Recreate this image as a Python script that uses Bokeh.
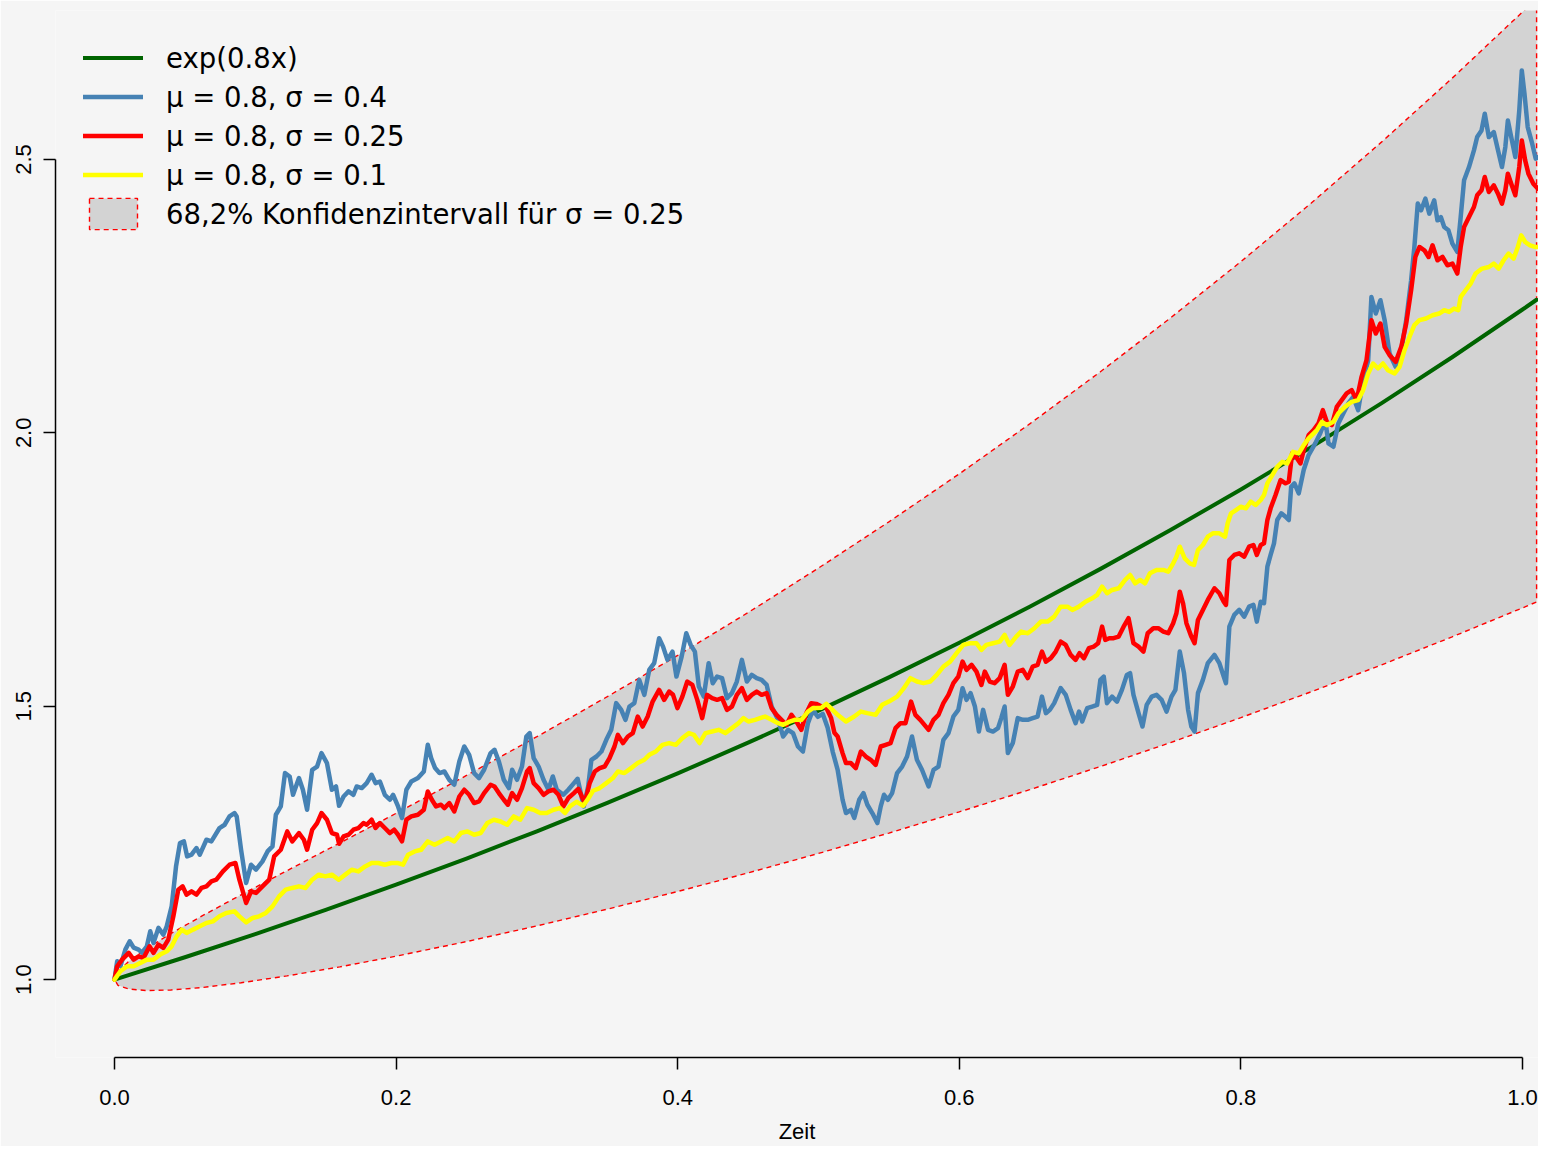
from bokeh.plotting import figure
from bokeh.models import Range1d, FixedTicker, PrintfTickFormatter, Legend, LegendItem
from bokeh.embed import file_html
from bokeh.resources import INLINE

# ---------------- data ----------------
x_ticks = [0.0, 0.2, 0.4, 0.6, 0.8, 1.0]
y_ticks = [1.0, 1.5, 2.0, 2.5]
x_label = "Zeit"
legend_labels = ["exp(0.8x)", "\u03bc = 0.8, \u03c3 = 0.4", "\u03bc = 0.8, \u03c3 = 0.25",
                 "\u03bc = 0.8, \u03c3 = 0.1", "68,2% Konfidenzintervall f\u00fcr \u03c3 = 0.25"]

trend_t = [0.0, 0.05, 0.1, 0.15, 0.2, 0.25, 0.3, 0.35, 0.4, 0.45, 0.5, 0.55, 0.6, 0.65,
           0.7, 0.75, 0.8, 0.85, 0.9, 0.95, 1.0, 1.01]
trend_v = [1.0, 1.0408, 1.0833, 1.1275, 1.1735, 1.2214, 1.2712, 1.3231, 1.3771, 1.4333,
           1.4918, 1.5527, 1.6161, 1.6820, 1.7507, 1.8221, 1.8965, 1.9739, 2.0544, 2.1383,
           2.2255, 2.2434]

band_t = [0.0, 0.0025, 0.01, 0.0225, 0.04, 0.0625, 0.09, 0.1225, 0.16, 0.2, 0.25, 0.3, 0.35,
          0.4, 0.45, 0.5, 0.55, 0.6, 0.65, 0.7, 0.75, 0.8, 0.85, 0.9, 0.95, 1.0, 1.01]
band_upper = [1.0, 1.0145, 1.0332, 1.0563, 1.0841, 1.1169, 1.1551, 1.1992, 1.2498, 1.3041,
              1.3733, 1.4442, 1.5174, 1.5930, 1.6713, 1.7527, 1.8372, 1.9250, 2.0163, 2.1113,
              2.2102, 2.3131, 2.4204, 2.5321, 2.6485, 2.7697, 2.7946]
band_lower = [1.0, 0.9895, 0.9828, 0.9800, 0.9809, 0.9856, 0.9942, 1.0067, 1.0233, 1.0428,
              1.0695, 1.0982, 1.1288, 1.1611, 1.1951, 1.2307, 1.2680, 1.3068, 1.3473, 1.3895,
              1.4334, 1.4791, 1.5265, 1.5757, 1.6268, 1.6798, 1.6907]

blue_pts = [
    (0.0, 1.0), (0.0019, 1.0334), (0.0042, 1.0243), (0.0077, 1.0548), (0.0108, 1.0700),
    (0.0136, 1.0585), (0.0171, 1.0548), (0.0195, 1.0493), (0.0230, 1.0608), (0.0254, 1.0883),
    (0.0277, 1.0671), (0.0312, 1.0945), (0.0347, 1.0822), (0.0371, 1.0974), (0.0406, 1.1339),
    (0.0437, 1.2070), (0.0465, 1.2498), (0.0493, 1.2527), (0.0516, 1.2253), (0.0547, 1.2284),
    (0.0582, 1.2406), (0.0606, 1.2284), (0.0653, 1.2558), (0.0688, 1.2527), (0.0746, 1.2772),
    (0.0782, 1.2832), (0.0817, 1.2984), (0.0852, 1.3046), (0.0868, 1.2984), (0.0899, 1.2375),
    (0.0935, 1.1767), (0.0970, 1.2101), (0.1005, 1.2010), (0.1051, 1.2162), (0.1087, 1.2344),
    (0.1122, 1.2436), (0.1146, 1.3015), (0.1181, 1.3167), (0.1211, 1.3777), (0.1244, 1.3715),
    (0.1268, 1.3380), (0.1310, 1.3686), (0.1338, 1.3472), (0.1368, 1.3106), (0.1404, 1.3837),
    (0.1439, 1.3897), (0.1470, 1.4142), (0.1509, 1.3960), (0.1544, 1.3472), (0.1573, 1.3532),
    (0.1595, 1.3179), (0.1627, 1.3349), (0.1662, 1.3441), (0.1697, 1.3380), (0.1720, 1.3532),
    (0.1756, 1.3503), (0.1791, 1.3594), (0.1826, 1.3746), (0.1854, 1.3594), (0.1885, 1.3623),
    (0.1920, 1.3380), (0.1956, 1.3289), (0.1979, 1.3380), (0.2014, 1.3167), (0.2042, 1.2955),
    (0.2073, 1.3472), (0.2108, 1.3623), (0.2155, 1.3686), (0.2197, 1.3806), (0.2225, 1.4294),
    (0.2249, 1.4051), (0.2277, 1.3868), (0.2308, 1.3777), (0.2343, 1.3806), (0.2378, 1.3654),
    (0.2413, 1.3563), (0.2449, 1.3989), (0.2484, 1.4263), (0.2519, 1.4111), (0.2554, 1.3777),
    (0.2589, 1.3686), (0.2625, 1.3837), (0.2671, 1.4142), (0.2699, 1.4203), (0.2730, 1.3989),
    (0.2765, 1.3654), (0.2801, 1.3503), (0.2824, 1.3837), (0.2859, 1.3654), (0.2894, 1.3897),
    (0.2925, 1.4446), (0.2949, 1.4508), (0.2977, 1.4051), (0.3012, 1.3897), (0.3047, 1.3654),
    (0.3082, 1.3472), (0.3113, 1.3715), (0.3141, 1.3472), (0.3188, 1.3380), (0.3223, 1.3472),
    (0.3263, 1.3594), (0.3289, 1.3673), (0.3333, 1.3167), (0.3364, 1.3532), (0.3387, 1.4020),
    (0.3423, 1.4080), (0.3458, 1.4171), (0.3493, 1.4385), (0.3528, 1.4568), (0.3563, 1.5056),
    (0.3599, 1.4933), (0.3629, 1.4751), (0.3657, 1.4994), (0.3692, 1.5056), (0.3727, 1.5482),
    (0.3763, 1.5208), (0.3798, 1.5664), (0.3833, 1.5787), (0.3868, 1.6244), (0.3896, 1.6090),
    (0.3927, 1.5847), (0.3963, 1.5999), (0.3991, 1.5542), (0.4028, 1.5907), (0.4061, 1.6335),
    (0.4092, 1.6121), (0.4122, 1.5999), (0.4150, 1.5359), (0.4185, 1.5176), (0.4220, 1.5787),
    (0.4249, 1.5421), (0.4280, 1.5542), (0.4315, 1.5513), (0.4350, 1.5147), (0.4385, 1.5239),
    (0.4420, 1.5451), (0.4456, 1.5847), (0.4491, 1.5451), (0.4526, 1.5573), (0.4561, 1.5513),
    (0.4596, 1.5482), (0.4632, 1.5390), (0.4667, 1.4994), (0.4713, 1.4751), (0.4749, 1.4446),
    (0.4784, 1.4568), (0.4819, 1.4508), (0.4854, 1.4263), (0.4889, 1.4171), (0.4925, 1.4690),
    (0.4960, 1.4933), (0.4995, 1.4806), (0.5030, 1.4860), (0.5065, 1.4605), (0.5101, 1.4166),
    (0.5136, 1.3837), (0.5171, 1.3289), (0.5195, 1.3046), (0.5230, 1.3106), (0.5254, 1.2955),
    (0.5289, 1.3289), (0.5319, 1.3411), (0.5347, 1.3198), (0.5382, 1.3046), (0.5418, 1.2863),
    (0.5442, 1.3167), (0.5465, 1.3380), (0.5493, 1.3289), (0.5523, 1.3411), (0.5558, 1.3777),
    (0.5594, 1.3897), (0.5629, 1.4080), (0.5664, 1.4446), (0.5699, 1.4020), (0.5735, 1.3837),
    (0.5782, 1.3532), (0.5817, 1.3837), (0.5852, 1.3897), (0.5887, 1.4385), (0.5923, 1.4508),
    (0.5958, 1.4811), (0.5993, 1.4933), (0.6023, 1.5330), (0.6051, 1.5116), (0.6080, 1.5239),
    (0.6111, 1.4994), (0.6139, 1.4537), (0.6169, 1.4933), (0.6204, 1.4568), (0.6239, 1.4537),
    (0.6275, 1.4599), (0.6298, 1.4782), (0.6322, 1.4994), (0.6345, 1.4142), (0.6380, 1.4325),
    (0.6415, 1.4782), (0.6451, 1.4751), (0.6486, 1.4751), (0.6521, 1.4782), (0.6556, 1.4811),
    (0.6587, 1.5176), (0.6615, 1.4873), (0.6643, 1.4933), (0.6674, 1.5056), (0.6720, 1.5330),
    (0.6756, 1.5208), (0.6791, 1.4933), (0.6826, 1.4690), (0.6850, 1.4902), (0.6873, 1.4720),
    (0.6908, 1.4964), (0.6944, 1.4994), (0.6979, 1.5025), (0.7002, 1.5482), (0.7026, 1.5542),
    (0.7049, 1.5056), (0.7085, 1.5176), (0.7120, 1.5085), (0.7155, 1.5299), (0.7190, 1.5573),
    (0.7213, 1.5604), (0.7237, 1.5208), (0.7273, 1.4873), (0.7301, 1.4628), (0.7331, 1.5025),
    (0.7366, 1.5176), (0.7401, 1.5208), (0.7437, 1.5116), (0.7472, 1.4902), (0.7507, 1.5176),
    (0.7535, 1.5299), (0.7566, 1.5999), (0.7596, 1.5604), (0.7625, 1.4933), (0.7648, 1.4628),
    (0.7671, 1.4537), (0.7695, 1.5239), (0.7730, 1.5482), (0.7765, 1.5787), (0.7812, 1.5938),
    (0.7847, 1.5787), (0.7878, 1.5542), (0.7894, 1.5421), (0.7918, 1.6455), (0.7953, 1.6669),
    (0.7988, 1.6761), (0.8023, 1.6638), (0.8058, 1.6821), (0.8089, 1.6852), (0.8113, 1.6547),
    (0.8141, 1.6912), (0.8164, 1.6883), (0.8188, 1.7552), (0.8211, 1.7766), (0.8235, 1.7979),
    (0.8258, 1.8405), (0.8287, 1.8528), (0.8317, 1.8465), (0.8340, 1.8405), (0.8357, 1.9014),
    (0.8380, 1.9076), (0.8411, 1.8893), (0.8446, 1.9319), (0.8481, 1.9593), (0.8528, 1.9807),
    (0.8563, 1.9989), (0.8599, 2.0232), (0.8622, 1.9807), (0.8657, 1.9745), (0.8692, 2.0172),
    (0.8727, 2.0355), (0.8763, 2.0537), (0.8798, 2.0658), (0.8833, 2.0415), (0.8868, 2.0963),
    (0.8904, 2.1329), (0.8927, 2.2485), (0.8958, 2.2182), (0.8991, 2.2425), (0.9021, 2.2060),
    (0.9056, 2.1451), (0.9099, 2.1206), (0.9139, 2.1511), (0.9174, 2.2060), (0.9209, 2.2790),
    (0.9232, 2.3399), (0.9256, 2.4192), (0.9280, 2.4069), (0.9310, 2.4283), (0.9338, 2.4009),
    (0.9373, 2.4252), (0.9396, 2.3887), (0.9420, 2.3947), (0.9444, 2.3764), (0.9474, 2.3704),
    (0.9502, 2.3461), (0.9537, 2.3308), (0.9561, 2.3947), (0.9585, 2.4618), (0.9620, 2.4861),
    (0.9655, 2.5166), (0.9678, 2.5409), (0.9709, 2.5531), (0.9732, 2.5836), (0.9761, 2.5409),
    (0.9796, 2.5500), (0.9826, 2.5166), (0.9854, 2.4861), (0.9878, 2.5226), (0.9896, 2.5714),
    (0.9920, 2.5409), (0.9949, 2.5044), (0.9977, 2.5897), (0.9995, 2.6628), (1.0014, 2.6202),
    (1.0037, 2.5592), (1.0066, 2.5318), (1.0094, 2.5014), (1.0113, 2.5044),
]

red_pts = [
    (0.0, 1.0), (0.0019, 1.0243), (0.0054, 1.0365), (0.0101, 1.0488), (0.0136, 1.0365),
    (0.0171, 1.0426), (0.0206, 1.0396), (0.0249, 1.0608), (0.0277, 1.0488), (0.0312, 1.0640),
    (0.0347, 1.0579), (0.0382, 1.0731), (0.0418, 1.1157), (0.0453, 1.1644), (0.0484, 1.1705),
    (0.0512, 1.1553), (0.0547, 1.1613), (0.0582, 1.1553), (0.0618, 1.1676), (0.0653, 1.1705),
    (0.0688, 1.1796), (0.0723, 1.1827), (0.0770, 1.1979), (0.0817, 1.2101), (0.0859, 1.2132),
    (0.0887, 1.1827), (0.0935, 1.1401), (0.0970, 1.1613), (0.1005, 1.1584), (0.1051, 1.1705),
    (0.1099, 1.1827), (0.1134, 1.2253), (0.1181, 1.2375), (0.1227, 1.2710), (0.1263, 1.2527),
    (0.1310, 1.2680), (0.1345, 1.2558), (0.1368, 1.2375), (0.1404, 1.2741), (0.1439, 1.2863),
    (0.1470, 1.3046), (0.1509, 1.2924), (0.1544, 1.2680), (0.1580, 1.2649), (0.1595, 1.2485),
    (0.1627, 1.2618), (0.1662, 1.2649), (0.1697, 1.2741), (0.1732, 1.2772), (0.1768, 1.2863),
    (0.1791, 1.2832), (0.1826, 1.2924), (0.1854, 1.2772), (0.1885, 1.2863), (0.1920, 1.2772),
    (0.1956, 1.2680), (0.1986, 1.2741), (0.2014, 1.2649), (0.2042, 1.2527), (0.2073, 1.2924),
    (0.2108, 1.2984), (0.2155, 1.3015), (0.2197, 1.3106), (0.2225, 1.3441), (0.2254, 1.3289),
    (0.2284, 1.3167), (0.2319, 1.3198), (0.2343, 1.3137), (0.2378, 1.3229), (0.2413, 1.3075),
    (0.2449, 1.3349), (0.2484, 1.3472), (0.2519, 1.3380), (0.2554, 1.3229), (0.2589, 1.3258),
    (0.2625, 1.3411), (0.2671, 1.3563), (0.2699, 1.3532), (0.2730, 1.3411), (0.2765, 1.3289),
    (0.2794, 1.3198), (0.2824, 1.3411), (0.2859, 1.3289), (0.2894, 1.3503), (0.2930, 1.3806),
    (0.2949, 1.3868), (0.2977, 1.3594), (0.3012, 1.3503), (0.3047, 1.3380), (0.3082, 1.3441),
    (0.3118, 1.3472), (0.3153, 1.3380), (0.3188, 1.3167), (0.3223, 1.3320), (0.3263, 1.3411),
    (0.3294, 1.3490), (0.3340, 1.3229), (0.3375, 1.3594), (0.3411, 1.3806), (0.3446, 1.3868),
    (0.3481, 1.3897), (0.3516, 1.4051), (0.3551, 1.4263), (0.3575, 1.4477), (0.3611, 1.4325),
    (0.3646, 1.4446), (0.3681, 1.4508), (0.3716, 1.4811), (0.3751, 1.4628), (0.3787, 1.4811),
    (0.3822, 1.5085), (0.3868, 1.5299), (0.3904, 1.5116), (0.3939, 1.5268), (0.3967, 1.5208),
    (0.3998, 1.4964), (0.4033, 1.5176), (0.4068, 1.5451), (0.4104, 1.5390), (0.4139, 1.5116),
    (0.4174, 1.4782), (0.4209, 1.5208), (0.4244, 1.5147), (0.4280, 1.5116), (0.4315, 1.5147),
    (0.4350, 1.4933), (0.4385, 1.4994), (0.4420, 1.5208), (0.4456, 1.5330), (0.4491, 1.5116),
    (0.4526, 1.5208), (0.4561, 1.5268), (0.4596, 1.5208), (0.4632, 1.5239), (0.4667, 1.4964),
    (0.4702, 1.4842), (0.4737, 1.4751), (0.4773, 1.4659), (0.4808, 1.4842), (0.4843, 1.4720),
    (0.4878, 1.4568), (0.4913, 1.4873), (0.4949, 1.5056), (0.4983, 1.5043), (0.5019, 1.4997),
    (0.5054, 1.4979), (0.5089, 1.4787), (0.5113, 1.4513), (0.5136, 1.4446), (0.5171, 1.4142),
    (0.5195, 1.3960), (0.5230, 1.3960), (0.5265, 1.3868), (0.5301, 1.4171), (0.5336, 1.4080),
    (0.5371, 1.4020), (0.5406, 1.3928), (0.5442, 1.4263), (0.5477, 1.4294), (0.5512, 1.4325),
    (0.5547, 1.4599), (0.5582, 1.4690), (0.5618, 1.4690), (0.5657, 1.5085), (0.5688, 1.4842),
    (0.5723, 1.4751), (0.5782, 1.4568), (0.5817, 1.4751), (0.5852, 1.4842), (0.5887, 1.5056),
    (0.5923, 1.5208), (0.5958, 1.5421), (0.5993, 1.5542), (0.6023, 1.5816), (0.6051, 1.5664),
    (0.6087, 1.5756), (0.6122, 1.5633), (0.6157, 1.5390), (0.6181, 1.5633), (0.6216, 1.5451),
    (0.6251, 1.5421), (0.6287, 1.5513), (0.6322, 1.5756), (0.6345, 1.5208), (0.6380, 1.5359),
    (0.6415, 1.5633), (0.6451, 1.5664), (0.6486, 1.5513), (0.6521, 1.5725), (0.6556, 1.5756),
    (0.6587, 1.5999), (0.6615, 1.5816), (0.6650, 1.5878), (0.6685, 1.5999), (0.6720, 1.6181),
    (0.6756, 1.6121), (0.6791, 1.5938), (0.6826, 1.5847), (0.6854, 1.5969), (0.6885, 1.5878),
    (0.6920, 1.6061), (0.6956, 1.6090), (0.6986, 1.6152), (0.7014, 1.6455), (0.7037, 1.6212),
    (0.7065, 1.6244), (0.7096, 1.6244), (0.7132, 1.6273), (0.7167, 1.6455), (0.7202, 1.6609),
    (0.7237, 1.6152), (0.7273, 1.6090), (0.7308, 1.5999), (0.7338, 1.6335), (0.7378, 1.6426),
    (0.7413, 1.6426), (0.7449, 1.6364), (0.7484, 1.6335), (0.7519, 1.6518), (0.7542, 1.6700),
    (0.7566, 1.7095), (0.7589, 1.6883), (0.7613, 1.6518), (0.7648, 1.6273), (0.7671, 1.6152),
    (0.7695, 1.6578), (0.7730, 1.6761), (0.7765, 1.6943), (0.7812, 1.7157), (0.7847, 1.7066),
    (0.7878, 1.6912), (0.7894, 1.6852), (0.7918, 1.7674), (0.7953, 1.7766), (0.7988, 1.7797),
    (0.8023, 1.7735), (0.8058, 1.7917), (0.8089, 1.7948), (0.8113, 1.7766), (0.8141, 1.7948),
    (0.8164, 1.7979), (0.8188, 1.8405), (0.8211, 1.8619), (0.8246, 1.8862), (0.8282, 1.9136),
    (0.8317, 1.9076), (0.8340, 1.9105), (0.8364, 1.9624), (0.8399, 1.9532), (0.8423, 1.9441),
    (0.8446, 1.9684), (0.8481, 1.9958), (0.8516, 2.0050), (0.8551, 2.0172), (0.8582, 2.0415),
    (0.8610, 2.0201), (0.8646, 2.0141), (0.8681, 2.0475), (0.8716, 2.0598), (0.8751, 2.0720),
    (0.8787, 2.0780), (0.8822, 2.0598), (0.8857, 2.1024), (0.8892, 2.1329), (0.8927, 2.2060),
    (0.8958, 2.1816), (0.8991, 2.1999), (0.9021, 2.1572), (0.9056, 2.1420), (0.9099, 2.1298),
    (0.9139, 2.1572), (0.9174, 2.1999), (0.9209, 2.2608), (0.9239, 2.3216), (0.9268, 2.3399),
    (0.9303, 2.3339), (0.9333, 2.3216), (0.9361, 2.3430), (0.9396, 2.3156), (0.9432, 2.3216),
    (0.9467, 2.3064), (0.9502, 2.3095), (0.9537, 2.2913), (0.9561, 2.3399), (0.9585, 2.3764),
    (0.9620, 2.3947), (0.9655, 2.4130), (0.9678, 2.4344), (0.9709, 2.4435), (0.9732, 2.4678),
    (0.9761, 2.4404), (0.9796, 2.4526), (0.9826, 2.4374), (0.9854, 2.4192), (0.9878, 2.4435),
    (0.9896, 2.4740), (0.9920, 2.4557), (0.9949, 2.4344), (0.9977, 2.4861), (0.9995, 2.5348),
    (1.0019, 2.4983), (1.0042, 2.4740), (1.0077, 2.4557), (1.0108, 2.4466),
]

yellow_pts = [
    (0.0, 1.0), (0.0042, 1.0152), (0.0089, 1.0243), (0.0136, 1.0243), (0.0183, 1.0305),
    (0.0230, 1.0365), (0.0277, 1.0365), (0.0324, 1.0457), (0.0371, 1.0517), (0.0406, 1.0608),
    (0.0442, 1.0791), (0.0477, 1.0914), (0.0512, 1.0853), (0.0558, 1.0914), (0.0606, 1.0974),
    (0.0653, 1.1036), (0.0699, 1.1065), (0.0746, 1.1157), (0.0794, 1.1219), (0.0852, 1.1248),
    (0.0887, 1.1157), (0.0935, 1.1047), (0.0981, 1.1127), (0.1028, 1.1157), (0.1075, 1.1219),
    (0.1122, 1.1339), (0.1169, 1.1522), (0.1216, 1.1644), (0.1263, 1.1676), (0.1310, 1.1705),
    (0.1357, 1.1676), (0.1404, 1.1827), (0.1451, 1.1919), (0.1498, 1.1887), (0.1544, 1.1919),
    (0.1592, 1.1827), (0.1639, 1.1919), (0.1685, 1.2010), (0.1732, 1.1979), (0.1780, 1.2070),
    (0.1826, 1.2132), (0.1873, 1.2132), (0.1920, 1.2101), (0.1967, 1.2132), (0.2014, 1.2132),
    (0.2049, 1.2101), (0.2085, 1.2284), (0.2132, 1.2344), (0.2178, 1.2375), (0.2225, 1.2527),
    (0.2273, 1.2467), (0.2319, 1.2527), (0.2366, 1.2589), (0.2413, 1.2527), (0.2460, 1.2680),
    (0.2507, 1.2710), (0.2554, 1.2649), (0.2601, 1.2680), (0.2648, 1.2863), (0.2695, 1.2924),
    (0.2742, 1.2892), (0.2789, 1.2832), (0.2836, 1.2984), (0.2882, 1.2924), (0.2930, 1.3137),
    (0.2977, 1.3106), (0.3023, 1.3046), (0.3070, 1.3046), (0.3118, 1.3106), (0.3164, 1.3137),
    (0.3199, 1.3046), (0.3235, 1.3167), (0.3282, 1.3252), (0.3329, 1.3179), (0.3364, 1.3307),
    (0.3399, 1.3453), (0.3446, 1.3503), (0.3493, 1.3594), (0.3540, 1.3686), (0.3575, 1.3806),
    (0.3622, 1.3777), (0.3669, 1.3868), (0.3716, 1.3960), (0.3763, 1.4020), (0.3798, 1.4111),
    (0.3845, 1.4171), (0.3892, 1.4294), (0.3939, 1.4325), (0.3986, 1.4294), (0.4033, 1.4416),
    (0.4080, 1.4508), (0.4115, 1.4477), (0.4155, 1.4325), (0.4197, 1.4508), (0.4244, 1.4537),
    (0.4291, 1.4568), (0.4338, 1.4508), (0.4385, 1.4599), (0.4432, 1.4690), (0.4467, 1.4782),
    (0.4502, 1.4720), (0.4549, 1.4751), (0.4585, 1.4782), (0.4620, 1.4811), (0.4667, 1.4751),
    (0.4713, 1.4690), (0.4749, 1.4659), (0.4796, 1.4720), (0.4831, 1.4751), (0.4878, 1.4751),
    (0.4925, 1.4902), (0.4960, 1.4964), (0.5021, 1.4970), (0.5056, 1.5043), (0.5092, 1.4952),
    (0.5136, 1.4842), (0.5195, 1.4720), (0.5254, 1.4811), (0.5301, 1.4902), (0.5347, 1.4873),
    (0.5406, 1.4842), (0.5453, 1.5025), (0.5500, 1.5085), (0.5558, 1.5176), (0.5606, 1.5330),
    (0.5653, 1.5513), (0.5699, 1.5451), (0.5746, 1.5421), (0.5794, 1.5451), (0.5840, 1.5573),
    (0.5887, 1.5725), (0.5935, 1.5816), (0.5981, 1.5969), (0.6028, 1.6121), (0.6075, 1.6152),
    (0.6122, 1.6152), (0.6157, 1.6030), (0.6192, 1.6121), (0.6239, 1.6152), (0.6287, 1.6181),
    (0.6322, 1.6304), (0.6357, 1.6121), (0.6404, 1.6273), (0.6439, 1.6364), (0.6486, 1.6335),
    (0.6533, 1.6426), (0.6580, 1.6547), (0.6627, 1.6547), (0.6674, 1.6638), (0.6720, 1.6821),
    (0.6768, 1.6821), (0.6803, 1.6761), (0.6850, 1.6821), (0.6896, 1.6912), (0.6944, 1.6974),
    (0.6979, 1.7035), (0.7014, 1.7186), (0.7049, 1.7066), (0.7085, 1.7126), (0.7132, 1.7157),
    (0.7178, 1.7309), (0.7213, 1.7400), (0.7249, 1.7248), (0.7284, 1.7309), (0.7319, 1.7248),
    (0.7354, 1.7431), (0.7401, 1.7492), (0.7449, 1.7492), (0.7484, 1.7461), (0.7519, 1.7614),
    (0.7542, 1.7735), (0.7566, 1.7917), (0.7601, 1.7705), (0.7636, 1.7614), (0.7667, 1.7583),
    (0.7695, 1.7857), (0.7730, 1.7948), (0.7765, 1.8100), (0.7801, 1.8162), (0.7847, 1.8162),
    (0.7887, 1.8100), (0.7906, 1.8345), (0.7930, 1.8528), (0.7965, 1.8588), (0.8000, 1.8648),
    (0.8035, 1.8619), (0.8070, 1.8740), (0.8106, 1.8679), (0.8141, 1.8771), (0.8164, 1.8862),
    (0.8188, 1.9076), (0.8223, 1.9227), (0.8258, 1.9379), (0.8294, 1.9470), (0.8329, 1.9441),
    (0.8371, 1.9653), (0.8411, 1.9624), (0.8446, 1.9776), (0.8481, 1.9898), (0.8540, 2.0050),
    (0.8575, 2.0201), (0.8610, 2.0141), (0.8657, 2.0201), (0.8692, 2.0355), (0.8739, 2.0475),
    (0.8787, 2.0567), (0.8833, 2.0598), (0.8868, 2.0780), (0.8904, 2.1086), (0.8939, 2.1268),
    (0.8974, 2.1177), (0.9009, 2.1268), (0.9044, 2.1146), (0.9092, 2.1086), (0.9127, 2.1206),
    (0.9162, 2.1511), (0.9197, 2.1754), (0.9232, 2.1968), (0.9268, 2.2060), (0.9315, 2.2091),
    (0.9361, 2.2151), (0.9408, 2.2182), (0.9444, 2.2242), (0.9479, 2.2211), (0.9514, 2.2273),
    (0.9544, 2.2242), (0.9561, 2.2485), (0.9596, 2.2608), (0.9632, 2.2730), (0.9667, 2.2913),
    (0.9713, 2.3004), (0.9761, 2.3033), (0.9796, 2.3095), (0.9831, 2.3004), (0.9866, 2.3156),
    (0.9901, 2.3278), (0.9937, 2.3187), (0.9967, 2.3399), (0.9991, 2.3612), (1.0019, 2.3490),
    (1.0054, 2.3430), (1.0089, 2.3399), (1.0113, 2.3399),
]

# ---------------- figure ----------------
BG = "#F5F5F5"
TICK_FONT = "Liberation Sans"

p = figure(width=1538, height=1146,
           x_range=Range1d(-0.0419, 1.01136), y_range=Range1d(0.8575, 2.7724),
           output_backend="svg", toolbar_location=None,
           min_border_left=55, min_border_right=0, min_border_top=10, min_border_bottom=88)
p.background_fill_color = BG
p.border_fill_color = BG
p.outline_line_color = None
p.grid.visible = False

band_x = band_t + band_t[::-1]
band_y = band_upper + band_lower[::-1]
r_band = p.patch(band_x, band_y, fill_color="#D3D3D3", line_color="#FF0000",
                 line_dash="5 4", line_width=1.4)

r_green = p.line(trend_t, trend_v, line_color="#006400", line_width=4,
                 line_join="round", line_cap="round")

blue_t, blue_v = [list(a) for a in zip(*blue_pts)]
red_t, red_v = [list(a) for a in zip(*red_pts)]
yel_t, yel_v = [list(a) for a in zip(*yellow_pts)]

r_blue = p.line(blue_t, blue_v, line_color="#4682B4", line_width=4.5,
                line_join="round", line_cap="round")
r_red = p.line(red_t, red_v, line_color="#FF0000", line_width=4.5,
               line_join="round", line_cap="round")
r_yel = p.line(yel_t, yel_v, line_color="#FFFF00", line_width=4.5,
               line_join="round", line_cap="round")

# ---------------- axes ----------------
xa = p.xaxis[0]
xa.ticker = FixedTicker(ticks=x_ticks)
xa.formatter = PrintfTickFormatter(format="%.1f")
xa.bounds = (x_ticks[0], x_ticks[-1])
xa.axis_label = x_label
xa.axis_label_text_font = TICK_FONT
xa.axis_label_text_font_size = "22px"
xa.axis_label_text_font_style = "normal"
xa.axis_label_text_color = "black"
xa.axis_label_standoff = 11

ya = p.yaxis[0]
ya.ticker = FixedTicker(ticks=y_ticks)
ya.formatter = PrintfTickFormatter(format="%.1f")
ya.bounds = (y_ticks[0], y_ticks[-1])
ya.major_label_orientation = "vertical"

for ax, st in ((xa, 20), (ya, 12)):
    ax.axis_line_color = "black"
    ax.axis_line_width = 1.5
    ax.major_tick_line_color = "black"
    ax.major_tick_line_width = 1.5
    ax.major_tick_out = 12
    ax.major_tick_in = 0
    ax.minor_tick_out = 0
    ax.minor_tick_in = 0
    ax.major_label_text_font = TICK_FONT
    ax.major_label_text_font_size = "22px"
    ax.major_label_text_color = "black"
    ax.major_label_standoff = st

# ---------------- legend ----------------
legend = Legend(items=[LegendItem(label=legend_labels[0], renderers=[r_green]),
                       LegendItem(label=legend_labels[1], renderers=[r_blue]),
                       LegendItem(label=legend_labels[2], renderers=[r_red]),
                       LegendItem(label=legend_labels[3], renderers=[r_yel]),
                       LegendItem(label=legend_labels[4], renderers=[r_band])],
                location="top_left")
legend.label_text_font = "DejaVu Sans"
legend.label_text_font_size = "27.5px"
legend.label_text_color = "black"
legend.glyph_width = 60
legend.glyph_height = 39
legend.label_height = 39
legend.label_standoff = 23
legend.spacing = 0
legend.padding = 0
legend.margin = 28
legend.border_line_alpha = 0
legend.background_fill_alpha = 0
p.add_layout(legend)

open("out.html", "w").write(file_html(p, INLINE))
